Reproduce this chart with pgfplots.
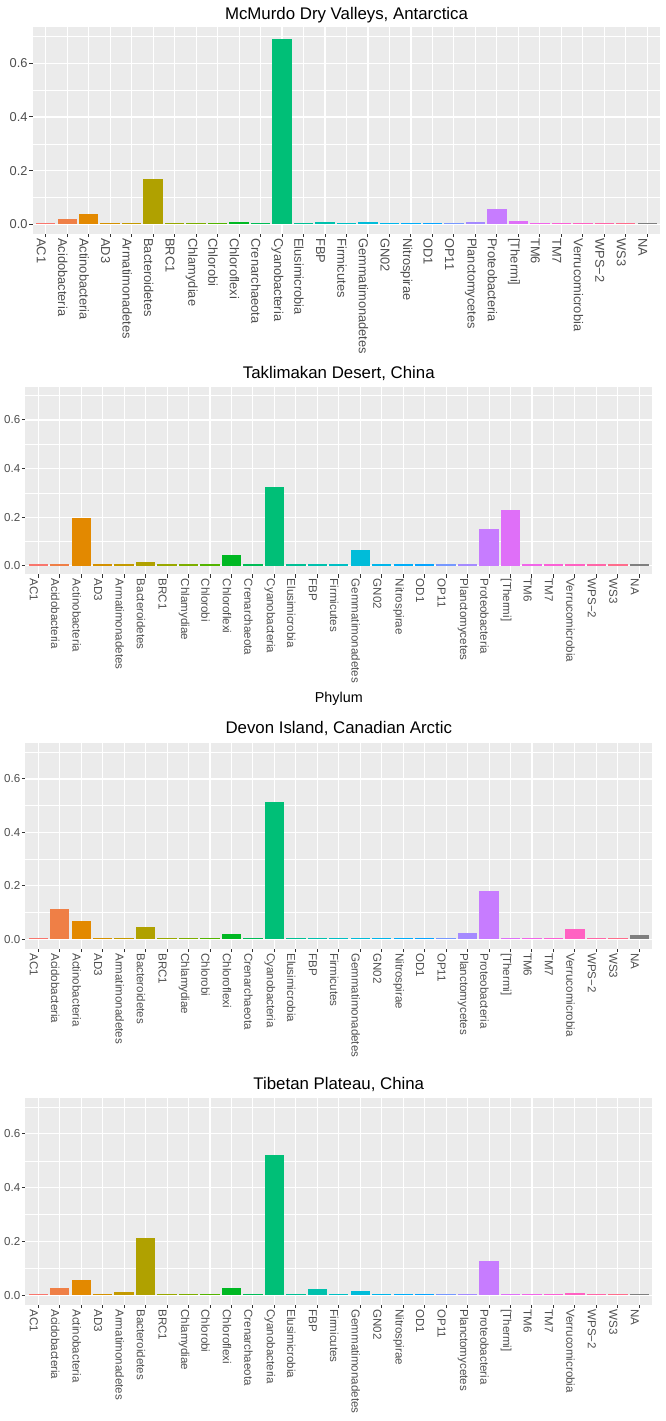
\documentclass[border=0pt]{standalone}
\usepackage{fontspec}
\setmainfont{Liberation Sans}
\usepackage{pgfplots}
\usepackage{pgfplotstable}
\pgfplotsset{compat=1.18}

% ggplot hue palette, 28 phyla + grey NA
\definecolor{c0}{HTML}{F8766D}\definecolor{c1}{HTML}{EF7F46}
\definecolor{c2}{HTML}{E38900}\definecolor{c3}{HTML}{D49100}
\definecolor{c4}{HTML}{C49A00}\definecolor{c5}{HTML}{B0A100}
\definecolor{c6}{HTML}{99A800}\definecolor{c7}{HTML}{7CAE00}
\definecolor{c8}{HTML}{53B400}\definecolor{c9}{HTML}{00B823}
\definecolor{c10}{HTML}{00BC56}\definecolor{c11}{HTML}{00BF77}
\definecolor{c12}{HTML}{00C094}\definecolor{c13}{HTML}{00C1AD}
\definecolor{c14}{HTML}{00BFC4}\definecolor{c15}{HTML}{00BCD9}
\definecolor{c16}{HTML}{00B6EB}\definecolor{c17}{HTML}{00AEF9}
\definecolor{c18}{HTML}{06A4FF}\definecolor{c19}{HTML}{7698FF}
\definecolor{c20}{HTML}{A58AFF}\definecolor{c21}{HTML}{C77CFF}
\definecolor{c22}{HTML}{DF6FF8}\definecolor{c23}{HTML}{F166E9}
\definecolor{c24}{HTML}{FB61D6}\definecolor{c25}{HTML}{FF62C2}
\definecolor{c26}{HTML}{FF66A8}\definecolor{c27}{HTML}{FE6D8C}
\definecolor{c28}{HTML}{7F7F7F}
\definecolor{gg92}{HTML}{EBEBEB}
\definecolor{gg20}{HTML}{333333}
\definecolor{gg30}{HTML}{4D4D4D}

\pgfplotstableread{
x y
0 0.005
1 0.020
2 0.040
3 0.005
4 0.005
5 0.168
6 0.005
7 0.005
8 0.005
9 0.010
10 0.005
11 0.691
12 0.005
13 0.007
14 0.005
15 0.008
16 0.005
17 0.005
18 0.005
19 0.005
20 0.009
21 0.058
22 0.014
23 0.005
24 0.006
25 0.005
26 0.005
27 0.005
28 0.005
}\mcmurdo

\pgfplotstableread{
x y
0 0.005
1 0.005
2 0.195
3 0.005
4 0.005
5 0.014
6 0.005
7 0.006
8 0.005
9 0.045
10 0.005
11 0.326
12 0.005
13 0.005
14 0.007
15 0.065
16 0.005
17 0.005
18 0.005
19 0.005
20 0.007
21 0.151
22 0.229
23 0.005
24 0.005
25 0.005
26 0.005
27 0.005
28 0.005
}\taklimakan

\pgfplotstableread{
x y
0 0.005
1 0.112
2 0.069
3 0.005
4 0.006
5 0.047
6 0.005
7 0.005
8 0.005
9 0.019
10 0.005
11 0.513
12 0.005
13 0.005
14 0.005
15 0.006
16 0.005
17 0.005
18 0.005
19 0.005
20 0.024
21 0.182
22 0.005
23 0.005
24 0.005
25 0.040
26 0.005
27 0.005
28 0.016
}\devon

\pgfplotstableread{
x y
0 0.005
1 0.028
2 0.056
3 0.005
4 0.011
5 0.213
6 0.005
7 0.005
8 0.005
9 0.027
10 0.005
11 0.521
12 0.005
13 0.023
14 0.006
15 0.016
16 0.005
17 0.005
18 0.005
19 0.005
20 0.006
21 0.129
22 0.005
23 0.005
24 0.005
25 0.007
26 0.005
27 0.005
28 0.005
}\tibet

\pgfplotsset{
  ggbar/.style={
    anchor=south west,
    scale only axis,
    xmin=-0.6, xmax=28.6,
    ymin=-0.035, ymax=0.735,
    axis lines*=left,
    axis line style={draw=none},
    axis background/.style={fill=gg92},
    xtick={0,...,28},
    xticklabels={AC1,Acidobacteria,Actinobacteria,AD3,Armatimonadetes,Bacteroidetes,BRC1,Chlamydiae,Chlorobi,Chloroflexi,Crenarchaeota,Cyanobacteria,Elusimicrobia,FBP,Firmicutes,Gemmatimonadetes,GN02,Nitrospirae,OD1,OP11,Planctomycetes,Proteobacteria,{[Thermi]},TM6,TM7,Verrucomicrobia,WPS−2,WS3,NA},
    ytick={0,0.2,0.4,0.6},
    yticklabels={0.0,0.2,0.4,0.6},
    minor ytick={0.1,0.3,0.5,0.7},
    xmajorgrids, ymajorgrids, yminorgrids,
    major grid style={white, line width=1.1bp},
    minor grid style={white, line width=0.55bp},
    tick align=outside,
    major tick length=3.5bp,
    minor tick length=0pt,
    tick style={gg20, line width=1bp},
    xticklabel style={xshift=-4.5bp, rotate=-90, anchor=west, inner sep=1bp, text=gg30},
    yticklabel style={inner sep=1.5bp, text=gg30},
  },
  bars/.style={ybar, bar width=0.9, bar shift=0pt, draw=none},
}

\begin{document}
\begin{tikzpicture}
\useasboundingbox (0,0) rectangle (666bp,1421bp);

% McMurdo
\begin{axis}[ggbar, at={(32.8bp,1187.3bp)}, width=627.4bp, height=206.6bp,
  ticklabel style={font=\fontsize{12.9}{14}\selectfont}]
\pgfplotsinvokeforeach{0,...,28}{
  \addplot[bars, fill=c#1, restrict x to domain=#1:#1] table[x=x,y=y] {\mcmurdo};
}
\end{axis}
\node[anchor=base, font=\fontsize{16.9}{18}\selectfont] at (346.5bp,1401.7bp) {McMurdo Dry Valleys, Antarctica};

% Taklimakan
\begin{axis}[ggbar, at={(25.4bp,846.8bp)}, width=626.8bp, height=187bp,
  ticklabel style={font=\fontsize{11.6}{13}\selectfont}]
\pgfplotsinvokeforeach{0,...,28}{
  \addplot[bars, fill=c#1, restrict x to domain=#1:#1] table[x=x,y=y] {\taklimakan};
}
\end{axis}
\node[anchor=base, font=\fontsize{16.9}{18}\selectfont] at (338.8bp,1042.7bp) {Taklimakan Desert, China};
\node[anchor=base, font=\fontsize{14.4}{16}\selectfont] at (338.8bp,718bp) {Phylum};

% Devon
\begin{axis}[ggbar, at={(25.4bp,472.4bp)}, width=626.8bp, height=205.7bp,
  ticklabel style={font=\fontsize{11.6}{13}\selectfont}]
\pgfplotsinvokeforeach{0,...,28}{
  \addplot[bars, fill=c#1, restrict x to domain=#1:#1] table[x=x,y=y] {\devon};
}
\end{axis}
\node[anchor=base, font=\fontsize{16.9}{18}\selectfont] at (338.8bp,687.7bp) {Devon Island, Canadian Arctic};

% Tibet
\begin{axis}[ggbar, at={(25.4bp,116.3bp)}, width=626.8bp, height=207.1bp,
  ticklabel style={font=\fontsize{11.6}{13}\selectfont}]
\pgfplotsinvokeforeach{0,...,28}{
  \addplot[bars, fill=c#1, restrict x to domain=#1:#1] table[x=x,y=y] {\tibet};
}
\end{axis}
\node[anchor=base, font=\fontsize{16.9}{18}\selectfont] at (338.8bp,331.7bp) {Tibetan Plateau, China};
\end{tikzpicture}
\end{document}
